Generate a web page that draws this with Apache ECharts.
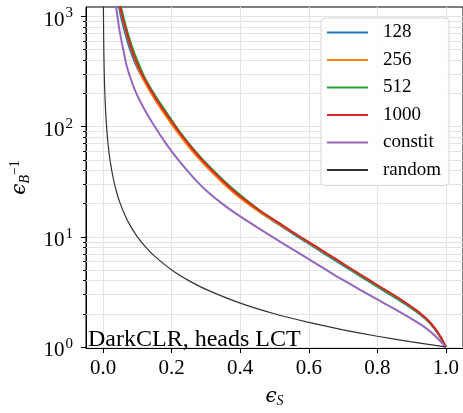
<!DOCTYPE html>
<html>
<head>
<meta charset="utf-8">
<script src="https://cdn.jsdelivr.net/npm/echarts@6.0.0/dist/echarts.min.js"></script>
<style>
  html, body { margin: 0; padding: 0; background: #fff; }
  #chart { width: 463px; height: 413px; }
</style>
</head>
<body>
<div id="chart"></div>
<script>
// signal efficiency grid shared by the four ensemble-size curves
const effS = [0.045, 0.049, 0.051, 0.06, 0.074, 0.088, 0.103, 0.12, 0.14, 0.17, 0.20, 0.22, 0.244, 0.27, 0.30, 0.35, 0.40,
    0.465, 0.51, 0.55, 0.60, 0.65, 0.70, 0.75, 0.80, 0.846, 0.88, 0.922, 0.95, 0.97, 0.985, 1.0]

const rej128 = [1265, 1110, 1030, 790, 555, 416, 325, 262, 204, 146, 107.5, 88, 70.5, 56.3, 44.4, 31.1, 22.7,
    16.1, 13.1, 10.85, 8.65, 6.9, 5.5, 4.4, 3.52, 2.88, 2.47, 2.0, 1.68, 1.42, 1.21, 1.0]
const rej256 = [1405, 1235, 1150, 878, 610, 448, 335, 260, 201, 143, 105, 86.3, 69, 55.1, 43.6, 30.7, 22.5,
    16.1, 13.2, 11.0, 8.82, 7.05, 5.63, 4.49, 3.6, 2.94, 2.52, 2.04, 1.71, 1.44, 1.22, 1.0]
const rej512 = [1550, 1360, 1265, 968, 673, 494, 377, 284, 220, 157, 115, 93.1, 74.4, 59.4, 46.8, 32.8, 23.9,
    16.6, 13.5, 11.1, 8.9, 7.05, 5.62, 4.47, 3.57, 2.92, 2.5, 2.03, 1.7, 1.44, 1.22, 1.0]
const rej1000 = [1435, 1260, 1172, 896, 623, 457, 349, 273, 212, 151, 111, 90.8, 72.6, 58.0, 45.7, 32.0, 23.3,
    16.6, 13.5, 11.2, 8.95, 7.15, 5.71, 4.56, 3.65, 2.98, 2.55, 2.06, 1.72, 1.45, 1.23, 1.0]

const constitEff = [0.036, 0.039, 0.048, 0.058, 0.068, 0.08, 0.093, 0.108, 0.122, 0.14, 0.165, 0.184, 0.21, 0.24,
    0.27, 0.303, 0.35, 0.40, 0.46, 0.53, 0.608, 0.68, 0.75, 0.80, 0.846, 0.90, 0.941, 0.97, 1.0]
const constitRej = [1350, 1150, 741, 513, 363, 275, 214, 170, 141, 113, 85.2, 69.8, 54.3, 41.8,
    32.7, 25.9, 19.7, 15.3, 11.6, 8.5, 6.05, 4.4, 3.3, 2.7, 2.25, 1.8, 1.49, 1.25, 1.0]

const randomEff = [0.0008, 0.001, 0.0015, 0.002, 0.003, 0.004, 0.005, 0.007, 0.01, 0.014, 0.02, 0.03, 0.04, 0.05,
    0.065, 0.08, 0.1, 0.125, 0.15, 0.2, 0.25, 0.3, 0.4, 0.5, 0.6, 0.7, 0.8, 0.9, 1.0]
const randomRej = [1250, 1000, 667, 500, 333, 250, 200, 143, 100, 71, 50, 33.3, 25, 20,
    15.4, 12.5, 10, 8, 6.67, 5, 4, 3.33, 2.5, 2, 1.67, 1.43, 1.25, 1.11, 1.0]

const xTicks = [0.0, 0.2, 0.4, 0.6, 0.8, 1.0]
const yTicks = [1, 10, 100, 1000]
const yMinorTicks = [2, 3, 4, 5, 6, 7, 8, 9, 20, 30, 40, 50, 60, 70, 80, 90, 200, 300, 400, 500, 600, 700, 800, 900]

const names = ['128', '256', '512', '1000', 'constit', 'random']
const colors = ['#1f77b4', '#ff7f0e', '#2ca02c', '#d62728', '#9467bd', '#333333']

const serif = 'Liberation Serif'
const yMin = 0.978
const yMax = 1220

function pairs(xs, ys) {
    return xs.map((x, i) => [x, ys[i]])
}

function curve(name, data, color, width) {
    return {
        name: name,
        type: 'line',
        data: data,
        showSymbol: false,
        symbol: 'none',
        smooth: 0.15,
        lineStyle: { color: color, width: width },
        itemStyle: { color: color },
        animation: false,
        z: 3
    }
}

const chart = echarts.init(document.getElementById('chart'))

chart.setOption({
    animation: false,
    grid: {
        left: 80, top: 7, width: 385, height: 351,
        show: true, borderColor: '#000', borderWidth: 1, backgroundColor: 'transparent'
    },
    legend: {
        data: names,
        orient: 'vertical',
        left: 321, top: 18,
        z: 20,
        backgroundColor: 'rgba(255,255,255,0.85)',
        borderColor: '#d6d6d6', borderWidth: 1, borderRadius: 4,
        padding: [5, 8, 6, 6],
        itemWidth: 41, itemHeight: 2, itemGap: 8.5,
        icon: 'rect',
        textStyle: { fontFamily: serif, fontSize: 19, color: '#000', padding: [0, 0, 0, 10] }
    },
    xAxis: {
        type: 'value',
        min: -0.05, max: 1.05,
        name: '{e|ϵ}{s|S}',
        nameLocation: 'middle',
        nameGap: 38,
        nameTextStyle: {
            rich: {
                e: { fontFamily: 'DejaVu Serif', fontStyle: 'italic', fontSize: 20, color: '#000' },
                s: { fontFamily: serif, fontStyle: 'italic', fontSize: 14, color: '#000', padding: [8, 0, 0, 0] }
            }
        },
        axisLine: { onZero: false, lineStyle: { color: '#000', width: 1 } },
        axisTick: { customValues: xTicks, length: 5, lineStyle: { color: '#000' } },
        axisLabel: {
            customValues: xTicks,
            formatter: v => v.toFixed(1),
            fontFamily: serif, fontSize: 21, color: '#000', margin: 10
        },
        splitLine: { show: true, lineStyle: { color: '#e3e3e3', width: 1 } }
    },
    yAxis: [{
        type: 'log',
        logBase: 10,
        min: yMin, max: yMax,
        name: '{e|ϵ}{s|B}{p|−1}',
        nameLocation: 'middle',
        nameGap: 54,
        nameTextStyle: {
            rich: {
                e: { fontFamily: 'DejaVu Serif', fontStyle: 'italic', fontSize: 20, color: '#000' },
                s: { fontFamily: serif, fontStyle: 'italic', fontSize: 14, color: '#000', padding: [10, 0, 0, 0] },
                p: { fontFamily: serif, fontSize: 14, color: '#000', padding: [0, 0, 10, 0] }
            }
        },
        axisLine: { show: true, onZero: false, lineStyle: { color: '#000', width: 1 } },
        axisTick: { customValues: yTicks, length: 5, lineStyle: { color: '#000' } },
        axisLabel: {
            customValues: yTicks,
            margin: 13,
            formatter: v => '{b|10}{s|' + Math.round(Math.log10(v)) + '}',
            rich: {
                b: { fontFamily: serif, fontSize: 21, color: '#000', padding: [8, 0, 0, 0] },
                s: { fontFamily: serif, fontSize: 15, color: '#000', padding: [0, 0, 6, 1] }
            }
        },
        splitLine: { show: true, lineStyle: { color: '#e3e3e3', width: 1 } }
    }, {
        // only carries the minor tick marks
        type: 'log',
        logBase: 10,
        min: yMin, max: yMax,
        position: 'left',
        axisLine: { show: false, onZero: false },
        axisTick: { show: true, customValues: yMinorTicks, length: 3, lineStyle: { color: '#000' } },
        axisLabel: { show: false },
        splitLine: { show: false }
    }],
    series: [
        {
            name: 'minor-grid',
            type: 'line',
            data: [],
            silent: true,
            z: 1,
            markLine: {
                z: 1,
                silent: true,
                symbol: ['none', 'none'],
                label: { show: false },
                animation: false,
                lineStyle: { color: '#e3e3e3', width: 1, type: 'solid' },
                emphasis: { disabled: true },
                data: yMinorTicks.map(v => ({ yAxis: v }))
            }
        },
        curve('128', pairs(effS, rej128), colors[0], 2),
        curve('256', pairs(effS, rej256), colors[1], 2),
        curve('512', pairs(effS, rej512), colors[2], 2),
        curve('1000', pairs(effS, rej1000), colors[3], 2),
        curve('constit', pairs(constitEff, constitRej), colors[4], 2),
        curve('random', pairs(randomEff, randomRej), colors[5], 1.2)
    ],
    graphic: [{
        type: 'text',
        left: 88, top: 328,
        z: 10,
        style: { text: 'DarkCLR, heads LCT', fontFamily: serif, fontSize: 24, fill: '#000' }
    }]
})
</script>
</body>
</html>
